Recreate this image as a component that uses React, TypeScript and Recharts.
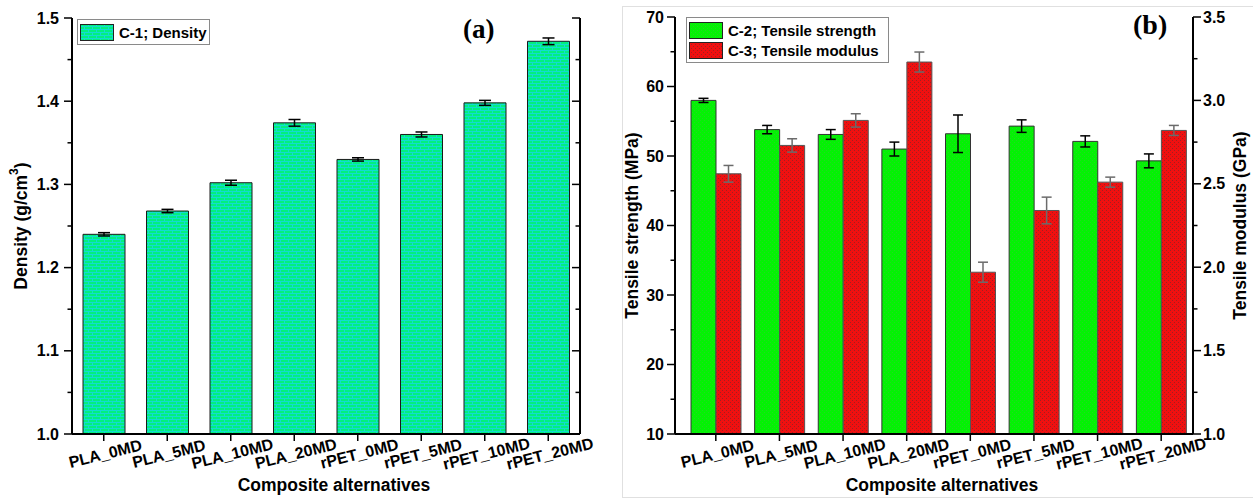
import React from "react";
import { BarChart, Bar, XAxis, YAxis, ErrorBar, Legend } from "recharts";

// composite alternatives (x categories)
const composites = ["PLA_0MD", "PLA_5MD", "PLA_10MD", "PLA_20MD", "rPET_0MD", "rPET_5MD", "rPET_10MD", "rPET_20MD"];

// (a) density, g/cm3
const density = [1.24, 1.268, 1.302, 1.374, 1.33, 1.36, 1.398, 1.472];
const densityErr = [0.002, 0.002, 0.003, 0.004, 0.002, 0.003, 0.003, 0.004];

// (b) tensile strength (MPa) and tensile modulus (GPa)
const tensileStrength = [58.0, 53.8, 53.1, 51.0, 53.2, 54.3, 52.1, 49.3];
const tensileStrengthErr = [0.3, 0.6, 0.7, 1.0, 2.7, 0.9, 0.8, 1.0];
const tensileModulus = [2.56, 2.73, 2.88, 3.23, 1.97, 2.34, 2.51, 2.82];
const tensileModulusErr = [0.05, 0.04, 0.04, 0.06, 0.06, 0.08, 0.03, 0.03];

// axis ticks (major + minor)
const densityTicks = [1.0, 1.05, 1.1, 1.15, 1.2, 1.25, 1.3, 1.35, 1.4, 1.45, 1.5];
const strengthTicks = [10, 15, 20, 25, 30, 35, 40, 45, 50, 55, 60, 65, 70];
const modulusTicks = [1.0, 1.25, 1.5, 1.75, 2.0, 2.25, 2.5, 2.75, 3.0, 3.25, 3.5];

const densityData = composites.map((name, i) => ({
  name,
  density: density[i],
  densityErr: densityErr[i],
}));

const tensileData = composites.map((name, i) => ({
  name,
  strength: tensileStrength[i],
  strengthErr: tensileStrengthErr[i],
  modulus: tensileModulus[i],
  modulusErr: tensileModulusErr[i],
}));

const FONT = "'Liberation Sans', Arial, sans-serif";
const SERIF = "'Liberation Serif', 'Times New Roman', serif";

const isInt = (v: number) => Math.abs(v - Math.round(v)) < 1e-6;

// y tick with major/minor marks drawn by hand
function makeYTick(
  side: "left" | "right",
  outward: boolean,
  isMajor: (v: number) => boolean,
  fmt: ((v: number) => string) | null,
  gap: number
) {
  return (props: any) => {
    const { x, y, payload } = props;
    const v = payload.value;
    const major = isMajor(v);
    const len = major ? 8 : 4.5;
    const dir = side === "left" ? (outward ? -1 : 1) : outward ? 1 : -1;
    return (
      <g>
        <line x1={x} y1={y} x2={x + dir * len} y2={y} stroke="#000" strokeWidth={1.5} />
        {major && fmt && (
          <text
            x={side === "left" ? x - gap : x + gap}
            y={y}
            textAnchor={side === "left" ? "end" : "start"}
            dominantBaseline="central"
            fontFamily={FONT}
            fontWeight="bold"
            fontSize={16}
            fill="#000"
          >
            {fmt(v)}
          </text>
        )}
      </g>
    );
  };
}

const CategoryTick = (props: any) => {
  const { x, y, payload } = props;
  const tx = x + 3;
  const ty = y + 25;
  return (
    <g>
      <line x1={x} y1={y} x2={x} y2={y + 7} stroke="#000" strokeWidth={1.5} />
      <text
        x={tx}
        y={ty}
        textAnchor="middle"
        transform={`rotate(-14 ${tx} ${ty})`}
        fontFamily={FONT}
        fontWeight="bold"
        fontSize={16}
        fill="#000"
      >
        {payload.value}
      </text>
    </g>
  );
};

const xTitle = (props: any) => {
  const vb = props.viewBox;
  return (
    <text
      x={vb.x + vb.width / 2 + 8}
      y={vb.y + 57}
      textAnchor="middle"
      fontFamily={FONT}
      fontWeight="bold"
      fontSize={17.5}
      fill="#000"
    >
      Composite alternatives
    </text>
  );
};

function yTitle(dx: number, content: React.ReactNode) {
  return (props: any) => {
    const vb = props.viewBox;
    const cx = vb.x + dx;
    const cy = vb.y + vb.height / 2;
    return (
      <text
        x={cx}
        y={cy}
        transform={`rotate(-90 ${cx} ${cy})`}
        textAnchor="middle"
        dominantBaseline="central"
        fontFamily={FONT}
        fontWeight="bold"
        fontSize={17.5}
        fill="#000"
      >
        {content}
      </text>
    );
  };
}

function legendBox(items: { label: string; fill: string }[], w: number) {
  return () => (
    <div
      style={{
        width: w,
        border: "1px solid #8a8a8a",
        background: "#fff",
        padding: "2px 2px 2px 2px",
        boxSizing: "border-box",
      }}
    >
      {items.map((it) => (
        <div key={it.label} style={{ display: "flex", alignItems: "center", height: 20 }}>
          <svg width={34} height={17} style={{ display: "block" }}>
            <rect x={0.5} y={0.5} width={33} height={16} fill={it.fill} stroke="#222" strokeWidth={1} />
          </svg>
          <span
            style={{
              marginLeft: 5,
              fontFamily: FONT,
              fontWeight: "bold",
              fontSize: 15,
              color: "#000",
              whiteSpace: "nowrap",
            }}
          >
            {it.label}
          </span>
        </div>
      ))}
    </div>
  );
}

function DensityChart() {
  return (
    <BarChart
      width={620}
      height={498}
      data={densityData}
      margin={{ top: 18, right: 0, bottom: 0, left: 0 }}
      barCategoryGap="17%"
    >
      <defs>
        <pattern id="cyanBrick" width={8} height={6} patternUnits="userSpaceOnUse">
          <rect width={8} height={6} fill="#02f07e" />
          <rect y={2} width={8} height={1} fill="#12dcd0" />
          <rect y={5} width={8} height={1} fill="#12dcd0" />
          <rect x={0} y={0} width={1} height={2} fill="#12dcd0" />
          <rect x={4} y={3} width={1} height={2} fill="#12dcd0" />
        </pattern>
      </defs>
      <XAxis
        dataKey="name"
        interval={0}
        height={64}
        tickLine={false}
        tickSize={0}
        tickMargin={0}
        tick={CategoryTick}
        axisLine={{ stroke: "#000", strokeWidth: 2 }}
        label={{ content: xTitle }}
      />
      <YAxis
        yAxisId="l"
        width={72}
        type="number"
        domain={[1.0, 1.5]}
        allowDataOverflow
        ticks={densityTicks}
        interval={0}
        tickLine={false}
        tickSize={0}
        tickMargin={0}
        tick={makeYTick("left", true, (v) => isInt(v * 10), (v) => v.toFixed(1), 13)}
        axisLine={{ stroke: "#000", strokeWidth: 2 }}
        label={{
          content: yTitle(21, (
            <>
              Density (g/cm
              <tspan dy={-7} fontSize={12}>3</tspan>
              <tspan dy={7}>)</tspan>
            </>
          )),
        }}
      />
      <YAxis
        yAxisId="r"
        orientation="right"
        width={40}
        type="number"
        domain={[1.0, 1.5]}
        allowDataOverflow
        ticks={densityTicks}
        interval={0}
        tickLine={false}
        tickSize={0}
        tickMargin={0}
        tick={makeYTick("right", false, (v) => isInt(v * 10), null, 0)}
        axisLine={{ stroke: "#000", strokeWidth: 2 }}
      />
      <Legend
        layout="horizontal"
        verticalAlign="middle"
        align="center"
        wrapperStyle={{ left: 77, top: 19, width: "auto", height: "auto" }}
        content={legendBox([{ label: "C-1; Density", fill: "url(#cyanBrick)" }], 133)}
      />
      <Bar
        yAxisId="l"
        dataKey="density"
        name="C-1; Density"
        fill="url(#cyanBrick)"
        stroke="#1a1a1a"
        strokeWidth={1}
        barSize={42}
        isAnimationActive={false}
      >
        <ErrorBar dataKey="densityErr" width={6} stroke="#000" strokeWidth={1.5} isAnimationActive={false} />
      </Bar>
    </BarChart>
  );
}

function TensileChart() {
  return (
    <BarChart
      width={633}
      height={498}
      data={tensileData}
      margin={{ top: 17, right: 0, bottom: 0, left: 0 }}
      barGap={0}
    >
      <defs>
        <pattern id="greenDots" width={4} height={4} patternUnits="userSpaceOnUse">
          <rect width={4} height={4} fill="#04f204" />
          <rect x={0} y={0} width={1} height={1} fill="#22d822" />
          <rect x={2} y={2} width={1} height={1} fill="#22d822" />
        </pattern>
        <pattern id="redDots" width={4} height={4} patternUnits="userSpaceOnUse">
          <rect width={4} height={4} fill="#f01010" />
          <rect x={0} y={0} width={1} height={1} fill="#a02020" />
          <rect x={2} y={2} width={1} height={1} fill="#a02020" />
        </pattern>
      </defs>
      <XAxis
        dataKey="name"
        interval={0}
        height={64}
        padding={{ left: 9, right: 0 }}
        tickLine={false}
        tickSize={0}
        tickMargin={0}
        tick={CategoryTick}
        axisLine={{ stroke: "#000", strokeWidth: 2 }}
        label={{ content: xTitle }}
      />
      <YAxis
        yAxisId="left"
        width={55}
        type="number"
        domain={[10, 70]}
        allowDataOverflow
        ticks={strengthTicks}
        interval={0}
        tickLine={false}
        tickSize={0}
        tickMargin={0}
        tick={makeYTick("left", true, (v) => v % 10 === 0, (v) => String(v), 11)}
        axisLine={{ stroke: "#000", strokeWidth: 2 }}
        label={{ content: yTitle(12, "Tensile strength (MPa)") }}
      />
      <YAxis
        yAxisId="right"
        orientation="right"
        width={60}
        type="number"
        domain={[1.0, 3.5]}
        allowDataOverflow
        ticks={modulusTicks}
        interval={0}
        tickLine={false}
        tickSize={0}
        tickMargin={0}
        tick={makeYTick("right", true, (v) => isInt(v * 2), (v) => v.toFixed(1), 10)}
        axisLine={{ stroke: "#000", strokeWidth: 2 }}
        label={{ content: yTitle(47, "Tensile modulus (GPa)") }}
      />
      <Legend
        layout="horizontal"
        verticalAlign="middle"
        align="center"
        wrapperStyle={{ left: 66, top: 17, width: "auto", height: "auto" }}
        content={legendBox(
          [
            { label: "C-2; Tensile strength", fill: "url(#greenDots)" },
            { label: "C-3; Tensile modulus", fill: "url(#redDots)" },
          ],
          203
        )}
      />
      <Bar
        yAxisId="left"
        dataKey="strength"
        name="C-2; Tensile strength"
        fill="url(#greenDots)"
        stroke="#333"
        strokeWidth={1}
        barSize={25}
        isAnimationActive={false}
      >
        <ErrorBar dataKey="strengthErr" width={5} stroke="#000" strokeWidth={1.5} isAnimationActive={false} />
      </Bar>
      <Bar
        yAxisId="right"
        dataKey="modulus"
        name="C-3; Tensile modulus"
        fill="url(#redDots)"
        stroke="#555"
        strokeWidth={1}
        barSize={25}
        isAnimationActive={false}
      >
        <ErrorBar dataKey="modulusErr" width={5} stroke="#6b6b6b" strokeWidth={1.5} isAnimationActive={false} />
      </Bar>
    </BarChart>
  );
}

export default function App() {
  return (
    <div
      style={{
        position: "absolute",
        left: 0,
        top: 0,
        width: 1253,
        height: 498,
        background: "#fff",
        overflow: "hidden",
        fontFamily: FONT,
      }}
    >
      <div style={{ position: "absolute", left: 0, top: 0 }}>
        <DensityChart />
      </div>
      <div
        style={{
          position: "absolute",
          left: 622,
          top: 6,
          width: 660,
          height: 490,
          border: "1.5px solid #e0e0e0",
        }}
      />
      <div style={{ position: "absolute", left: 620, top: 0 }}>
        <TensileChart />
      </div>
      <div
        style={{
          position: "absolute",
          left: 463,
          top: 12,
          fontFamily: SERIF,
          fontWeight: "bold",
          fontSize: 27,
          lineHeight: "34px",
        }}
      >
        (a)
      </div>
      <div
        style={{
          position: "absolute",
          left: 1133,
          top: 8,
          fontFamily: SERIF,
          fontWeight: "bold",
          fontSize: 28,
          lineHeight: "34px",
        }}
      >
        (b)
      </div>
    </div>
  );
}
